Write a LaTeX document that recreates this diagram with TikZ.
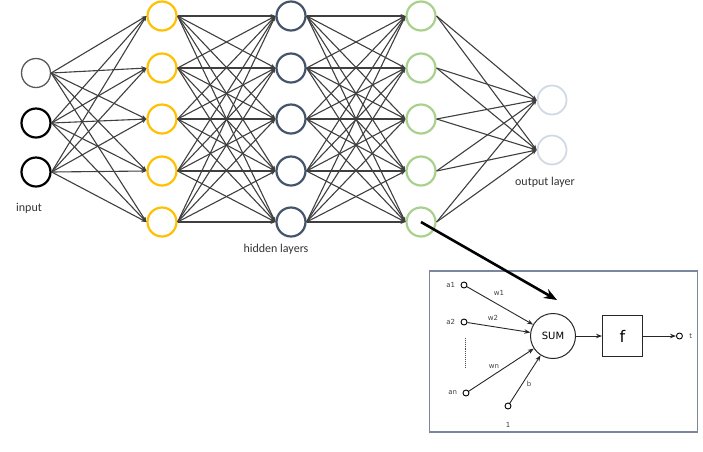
\documentclass[tikz,border=0pt]{standalone}
\usepackage{xcolor}
\usepackage{fontspec}
\setmainfont{Carlito}
\newfontfamily\insetfont{DejaVu Sans}
\usepackage{tikz}
\usetikzlibrary{arrows.meta, positioning}
\definecolor{gold}{HTML}{FFC000}
\definecolor{slate}{HTML}{44546A}
\definecolor{leaf}{HTML}{A9D18E}
\definecolor{mist}{HTML}{D0D9E4}
\definecolor{wire}{HTML}{3F3F3F}
\definecolor{frame}{HTML}{7A879E}
\tikzset{
    neuron/.style={draw, circle, minimum size=29pt, inner sep=0pt, line width=2.2pt},
    link/.style={draw=wire, line width=1.1pt, -{Stealth[length=5pt, width=4pt]}},
    caption/.style={font=\fontsize{12}{14}\selectfont, text=black!80},
    terminal/.style={draw, circle, minimum size=6pt, inner sep=0pt, line width=0.9pt},
    small/.style={font=\insetfont\fontsize{7}{8}\selectfont, text=black!75},
    sig/.style={draw=black!85, line width=0.9pt, -{Stealth[length=6pt, width=4.5pt]}}
}

\begin{document}
\begin{tikzpicture}[x=1pt, y=-1pt]
    \useasboundingbox (0,0) rectangle (703,451);
    % network
    \node (in1) [neuron, draw=black!65, line width=1.3pt] at (36,73) {};
    \node (in2) [neuron, draw=black] at (36,123) {};
    \node (in3) [neuron, draw=black] at (36,172) {};
    \foreach \j/\y in {1/16, 2/68, 3/119, 4/171, 5/222} {
        \node (ha\j) [neuron, draw=gold] at (162,\y) {};
        \node (hb\j) [neuron, draw=slate] at (291,\y) {};
        \node (hc\j) [neuron, draw=leaf] at (421,\y) {};
    }
    \node (out1) [neuron, draw=mist, line width=1.8pt] at (552,100) {};
    \node (out2) [neuron, draw=mist, line width=1.8pt] at (552,150) {};

    \foreach \i in {1,2,3}
        \foreach \j in {1,...,5}
            \draw [link] (in\i.east) -- (ha\j.west);
    \foreach \i in {1,...,5}
        \foreach \j in {1,...,5} {
            \draw [link] (ha\i.east) -- (hb\j.west);
            \draw [link] (hb\i.east) -- (hc\j.west);
        }
    \foreach \i in {1,...,5}
        \foreach \j in {1,2}
            \draw [link] (hc\i.east) -- (out\j.west);

    \node (inlab) [caption] at (29,208) {input};
    \node (hidlab) [caption] at (276,249) {hidden layers};
    \node (outlab) [caption] at (545,182) {output layer};

    % single neuron
    \node (panel) [draw=frame, line width=1.1pt, minimum width=268pt, minimum height=161pt] at (563.5,351.5) {};
    \node (sum) [draw=black!85, circle, line width=1pt, minimum size=45pt, inner sep=0pt,
        font=\insetfont\fontsize{10}{12}\selectfont] at (553,336) {SUM};
    \node (f) [draw=black!85, line width=1pt, minimum width=40pt, minimum height=41pt,
        font=\insetfont\fontsize{16}{18}\selectfont, right=26pt of sum] {f};
    \node (t) [terminal, right=33pt of f] {};
    \node (a1) [terminal] at (464,285) {};
    \node (a2) [terminal] at (464,322) {};
    \node (an) [terminal] at (466,393) {};
    \node (one) [terminal] at (508,406) {};

    \node [small, left=2pt of a1] {a1};
    \node [small, left=2pt of a2] {a2};
    \node [small, left=2pt of an] {an};
    \node [small, below=9pt of one] {1};
    \node [small, right=3pt of t] {t};
    \node [small] at (499,293) {w1};
    \node [small] at (493,318) {w2};
    \node [small] at (494,367) {wn};
    \node [small] at (529,384) {b};

    \draw [black!70, line width=0.9pt, densely dotted] (465,338) -- (465,368);

    \draw [sig] (a1) -- (sum);
    \draw [sig] (a2) -- (sum);
    \draw [sig] (an) -- (sum);
    \draw [sig] (one) -- (sum);
    \draw [sig] (sum) -- (f);
    \draw [sig] (f) -- (t);

    \coordinate (zoomtip) at (557,300);
    \draw [line width=2.6pt, -{Stealth[length=13pt, width=10pt]}] (hc5.center) -- (zoomtip);
\end{tikzpicture}
\end{document}
